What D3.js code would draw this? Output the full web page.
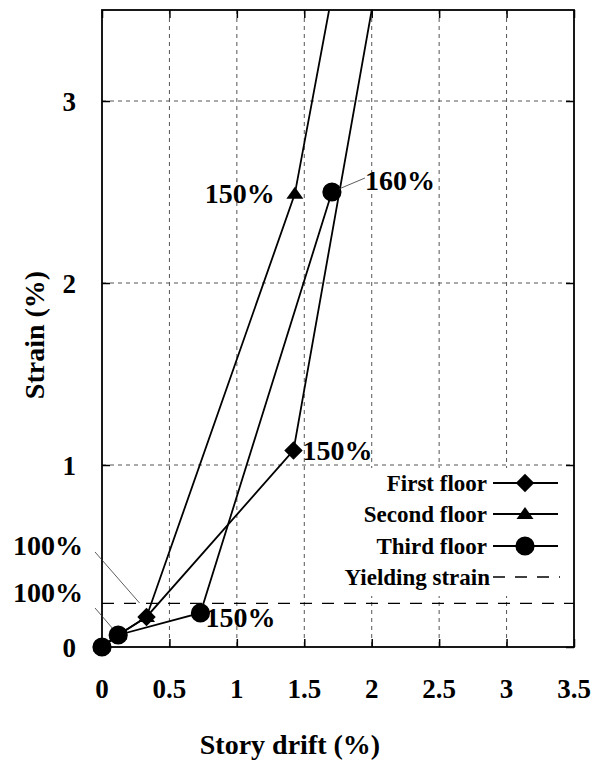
<!DOCTYPE html>
<html>
<head>
<meta charset="utf-8">
<script src="https://cdn.jsdelivr.net/npm/d3@7"></script>
<style>
  html, body { margin: 0; padding: 0; background: #fff; }
  svg { display: block; }
</style>
</head>
<body>
<svg id="chart" width="593" height="763"></svg>
<script>
// Story drift (%) vs. strain (%) per floor
const firstDrift   = [0, 0.12, 0.33, 1.42, 2.12];
const firstStrain  = [0, 0.066, 0.165, 1.08, 4.0];
const secondDrift  = [0, 0.12, 0.33, 1.43, 1.81];
const secondStrain = [0, 0.066, 0.165, 2.49, 4.0];
const thirdDrift   = [0, 0.12, 0.73, 1.705];
const thirdStrain  = [0, 0.066, 0.187, 2.5];
const yieldStrain  = 0.24;

const xTicks = [0, 0.5, 1, 1.5, 2, 2.5, 3, 3.5];
const yTicks = [0, 1, 2, 3];

const seriesNames = ["First floor", "Second floor", "Third floor"];
const yieldName = "Yielding strain";

// Percentage labels: [series index, point index, text]
const pointLabels = [
  [1, 3, "150%"],
  [2, 3, "160%"],
  [0, 3, "150%"],
  [2, 2, "150%"],
  [0, 2, "100%"],
  [2, 1, "100%"]
];

const FONT = "Liberation Serif";
const svg = d3.select("#chart");
const root = svg.append("g").attr("font-family", FONT);
const M = { left: 102, right: 574, top: 10, bottom: 647 };

const x = d3.scaleLinear().domain([0, 3.5]).range([M.left, M.right]);
const y = d3.scaleLinear().domain([0, 3.5]).range([M.bottom, M.top]);

const series = [
  { name: seriesNames[0], drift: firstDrift,  strain: firstStrain,  symbol: "diamond" },
  { name: seriesNames[1], drift: secondDrift, strain: secondStrain, symbol: "triangle" },
  { name: seriesNames[2], drift: thirdDrift,  strain: thirdStrain,  symbol: "circle" }
];
series.forEach(s => s.points = s.drift.map((d, i) => [d, s.strain[i]]));

function label(sel) {
  return sel.append("text").attr("font-family", FONT).attr("font-weight", "bold").attr("fill", "#000");
}

// grid
const grid = root.append("g").attr("stroke", "#555").attr("stroke-width", 1)
  .attr("stroke-dasharray", "4,4");
xTicks.filter(t => t > 0 && t < 3.5).forEach(t => {
  grid.append("line").attr("x1", x(t)).attr("x2", x(t)).attr("y1", M.top).attr("y2", M.bottom);
});
yTicks.filter(t => t > 0).forEach(t => {
  grid.append("line").attr("x1", M.left).attr("x2", M.right).attr("y1", y(t)).attr("y2", y(t));
});

// axes with inward ticks on all four sides
const xAxisB = d3.axisBottom(x).tickValues(xTicks).tickSize(-8).tickFormat("");
const xAxisT = d3.axisTop(x).tickValues(xTicks).tickSize(-8).tickFormat("");
const yAxisL = d3.axisLeft(y).tickValues(yTicks).tickSize(-8).tickFormat("");
const yAxisR = d3.axisRight(y).tickValues(yTicks).tickSize(-8).tickFormat("");
[[xAxisB, `translate(0,${M.bottom})`], [xAxisT, `translate(0,${M.top})`],
 [yAxisL, `translate(${M.left},0)`], [yAxisR, `translate(${M.right},0)`]].forEach(([ax, tr]) => {
  const g = root.append("g").attr("transform", tr).call(ax);
  g.select(".domain").remove();
  g.selectAll("line").attr("stroke", "#000").attr("stroke-width", 1.5);
});

// tick labels
const xl = root.append("g");
xTicks.forEach(d => label(xl).attr("x", x(d)).attr("y", 698).attr("text-anchor", "middle")
  .attr("font-size", 27).text(d));
const yl = root.append("g");
yTicks.forEach(d => label(yl).attr("x", 76).attr("y", y(d) + 10).attr("text-anchor", "end")
  .attr("font-size", 27).text(d));

// axis titles
label(root).attr("x", 290).attr("y", 754).attr("text-anchor", "middle")
  .attr("font-size", 28).text("Story drift (%)");
label(root).attr("transform", "translate(44,335) rotate(-90)")
  .attr("text-anchor", "middle").attr("font-size", 28).text("Strain (%)");

// legend background
root.append("rect").attr("x", 345).attr("y", 468).attr("width", 226).attr("height", 128)
  .attr("fill", "#fff");

// yield line
root.append("line").attr("x1", M.left).attr("x2", M.right)
  .attr("y1", y(yieldStrain)).attr("y2", y(yieldStrain))
  .attr("stroke", "#000").attr("stroke-width", 1.3).attr("stroke-dasharray", "12,10");

// clip for data lines
svg.append("clipPath").attr("id", "plotClip").append("rect")
  .attr("x", M.left).attr("y", M.top).attr("width", M.right - M.left).attr("height", M.bottom - M.top);

const line = d3.line().x(d => x(d[0])).y(d => y(d[1]));
const plot = root.append("g").attr("clip-path", "url(#plotClip)");

function symbolPath(kind) {
  if (kind === "diamond") return d3.symbol(d3.symbolSquare, 170)();
  if (kind === "triangle") return "M0,-7L8.5,5L-8.5,5Z";
  return d3.symbol(d3.symbolCircle, 290)();
}
function placeSymbol(sel, kind, px, py) {
  sel.append("path").attr("d", symbolPath(kind))
    .attr("transform", `translate(${px},${py})` + (kind === "diamond" ? " rotate(45)" : ""))
    .attr("fill", "#000");
}

// draw order: second, first, third
[1, 0, 2].forEach(i => {
  const s = series[i];
  plot.append("path").attr("d", line(s.points)).attr("fill", "none")
    .attr("stroke", "#000").attr("stroke-width", 1.8);
});

// frame
root.append("rect").attr("x", M.left).attr("y", M.top)
  .attr("width", M.right - M.left).attr("height", M.bottom - M.top)
  .attr("fill", "none").attr("stroke", "#000").attr("stroke-width", 1.8);

// markers (not clipped, drawn over the frame)
const marks = root.append("g");
[1, 0, 2].forEach(i => {
  const s = series[i];
  s.points.filter(p => p[1] <= 3.5).forEach(p => placeSymbol(marks, s.symbol, x(p[0]), y(p[1])));
});

// point labels
const leader = root.append("g").attr("stroke", "#333").attr("stroke-width", 0.8);
pointLabels.forEach(([si, pi, txt], k) => {
  const p = series[si].points[pi];
  const px = x(p[0]), py = y(p[1]);
  const t = label(root).attr("font-size", 28).text(txt);
  if (k === 0) {
    t.attr("x", px - 20).attr("y", py + 9).attr("text-anchor", "end");
  } else if (k === 1) {
    t.attr("x", px + 33).attr("y", py - 2).attr("text-anchor", "start");
    leader.append("line").attr("x1", px + 7).attr("y1", py - 3).attr("x2", px + 33).attr("y2", py - 14);
  } else if (k === 2) {
    t.attr("x", px + 9).attr("y", py + 10).attr("text-anchor", "start");
  } else if (k === 3) {
    t.attr("x", px + 5).attr("y", py + 14).attr("text-anchor", "start");
  } else if (k === 4) {
    t.attr("x", 83).attr("y", py - 62).attr("text-anchor", "end");
    leader.append("line").attr("x1", 95).attr("y1", py - 65).attr("x2", px - 7).attr("y2", py - 14);
  } else {
    t.attr("x", 83).attr("y", py - 33).attr("text-anchor", "end");
    leader.append("line").attr("x1", 95).attr("y1", py - 27).attr("x2", px - 6).attr("y2", py - 7);
  }
});

// legend
const lg = root.append("g");
const rowsY = [483, 514, 546, 577];
series.forEach((s, i) => {
  label(lg).attr("x", 487).attr("y", rowsY[i] + 8).attr("text-anchor", "end")
    .attr("font-size", 23).text(s.name);
  lg.append("line").attr("x1", 493).attr("x2", 558).attr("y1", rowsY[i]).attr("y2", rowsY[i])
    .attr("stroke", "#000").attr("stroke-width", 1.8);
  placeSymbol(lg, s.symbol, 525, rowsY[i]);
});
label(lg).attr("x", 490).attr("y", rowsY[3] + 8).attr("text-anchor", "end")
  .attr("font-size", 23).text(yieldName);
lg.append("line").attr("x1", 493).attr("x2", 560).attr("y1", rowsY[3]).attr("y2", rowsY[3])
  .attr("stroke", "#000").attr("stroke-width", 1.3).attr("stroke-dasharray", "12,10");
</script>
</body>
</html>
